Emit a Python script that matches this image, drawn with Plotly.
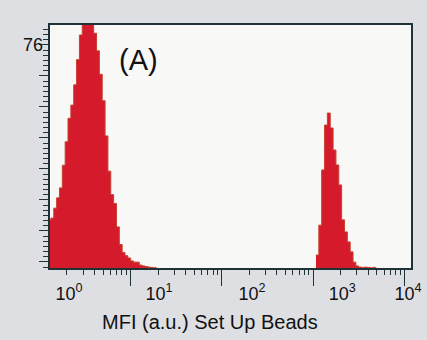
import plotly.graph_objects as go

# ---- data ----
channels_per_decade = 32          # histogram channel width = 1/32 decade
left_first_channel = 3
left_counts = [16.4, 17, 20.4, 23.9, 27.3, 35, 43, 51, 55.5, 62.4, 71, 79.4,
               86, 90, 89, 85, 80, 74, 66, 57, 45, 33, 25, 22, 14, 8, 5.3,
               4.2, 3.4, 2.4, 2.0, 2.0, 1.0, 0.7, 0.5, 0.3, 0.2, 0.1]
right_first_channel = 97
right_counts = [4.4, 14.6, 33.4, 48.7, 52.8, 47.7, 40.2, 35.1, 28.3, 16.4,
                12.3, 8.9, 5.5, 2.0, 0.7, 0.3, 0.2, 0.3, 0.2, 0.1, 0.2]

x_range_log = [0.115, 4.073]
y_max = 82.8
y_label_value = 76
y_major_step = 10.56
y_minor_per_major = 6

tick_label_text = ["10<sup>0</sup>", "10<sup>1</sup>", "10<sup>2</sup>",
                   "10<sup>3</sup>", "10<sup>4</sup>"]
tick_label_log_pos = [0.323, 1.31, 2.33, 3.32, 4.04]
decade_ticks = [10, 100, 1000, 10000]
minor_ticks = [d * 10 ** e for e in range(0, 4) for d in range(2, 10)]

panel_label = "(A)"
x_title = "MFI (a.u.) Set Up Beads"

FILL = "#d51a2b"
EDGE = "#c8402f"
DARK = "#1e3238"
FONT = "Liberation Sans, Arial, sans-serif"


def hist_xy(first, counts):
    edges = [10 ** ((first + i) / channels_per_decade) for i in range(len(counts) + 1)]
    return edges, list(counts) + [0]


fig = go.Figure()
for first, counts in [(left_first_channel, left_counts),
                      (right_first_channel, right_counts)]:
    xs, ys = hist_xy(first, counts)
    fig.add_trace(go.Scatter(x=xs, y=ys, mode="lines", line_shape="hv",
                             fill="tozeroy", fillcolor=FILL,
                             line=dict(color=EDGE, width=1),
                             hoverinfo="skip", showlegend=False))

# invisible traces carrying the decoration-only axes
fig.add_trace(go.Scatter(x=[10 ** p for p in tick_label_log_pos],
                         y=[0] * len(tick_label_log_pos), xaxis="x2",
                         mode="markers", marker=dict(opacity=0),
                         hoverinfo="skip", showlegend=False))
fig.add_trace(go.Scatter(x=[10], y=[y_label_value], yaxis="y2",
                         mode="markers", marker=dict(opacity=0),
                         hoverinfo="skip", showlegend=False))

fig.update_layout(
    width=427, height=340,
    margin=dict(l=50, r=16, t=25, b=72, autoexpand=False),
    paper_bgcolor="#dedfe3",
    plot_bgcolor="#f8f8f6",
    font=dict(family=FONT, color="#111111"),
    xaxis=dict(type="log", range=x_range_log, tickvals=decade_ticks,
               showticklabels=False, ticks="outside", ticklen=16,
               tickwidth=1.3, tickcolor=DARK, showgrid=False, zeroline=False,
               showline=True, linecolor=DARK, linewidth=1.5, mirror=True,
               automargin=False,
               minor=dict(tickvals=minor_ticks, ticks="outside", ticklen=5,
                          tickwidth=1.2, tickcolor=DARK, showgrid=False)),
    xaxis2=dict(type="log", range=x_range_log, overlaying="x", anchor="y",
                side="bottom", tickvals=[10 ** p for p in tick_label_log_pos],
                ticktext=tick_label_text, ticks="outside", ticklen=9,
                tickcolor="rgba(0,0,0,0)", showgrid=False, zeroline=False,
                showline=False, automargin=False,
                tickfont=dict(size=18, family=FONT, color="#111")),
    yaxis=dict(range=[0, y_max], tickmode="linear",
               tick0=y_label_value, dtick=y_major_step,
               showticklabels=False,
               ticks="outside", ticklen=9, tickwidth=1.3, tickcolor=DARK,
               automargin=False, showgrid=False, zeroline=False,
               showline=True, linecolor=DARK, linewidth=1.5, mirror=True),
    yaxis2=dict(range=[0, y_max], overlaying="y", anchor="x", side="left",
                tickmode="linear", tick0=y_label_value,
                dtick=y_major_step / y_minor_per_major,
                showticklabels=False, ticks="outside", ticklen=6,
                tickwidth=1.4, tickcolor=DARK,
                showgrid=False, zeroline=False, showline=False,
                automargin=False),
    annotations=[
        dict(text=str(y_label_value), xref="paper", yref="y", x=0,
             y=y_label_value, xanchor="right", yanchor="middle", xshift=-5,
             showarrow=False, font=dict(size=18, family=FONT, color="#111")),
        dict(text=panel_label, xref="paper", yref="paper", x=0.2465, y=0.856,
             xanchor="center", yanchor="middle", showarrow=False,
             font=dict(size=29, family=FONT, color="#111")),
        dict(text=x_title, xref="paper", yref="paper", x=0.443, y=-0.222,
             xanchor="center", yanchor="middle", showarrow=False,
             font=dict(size=20, family=FONT, color="#111")),
    ],
)

fig.write_html("out.html", config={"displayModeBar": False},
               post_script="document.body.style.margin='0';"
                           "document.body.style.overflow='hidden';")
